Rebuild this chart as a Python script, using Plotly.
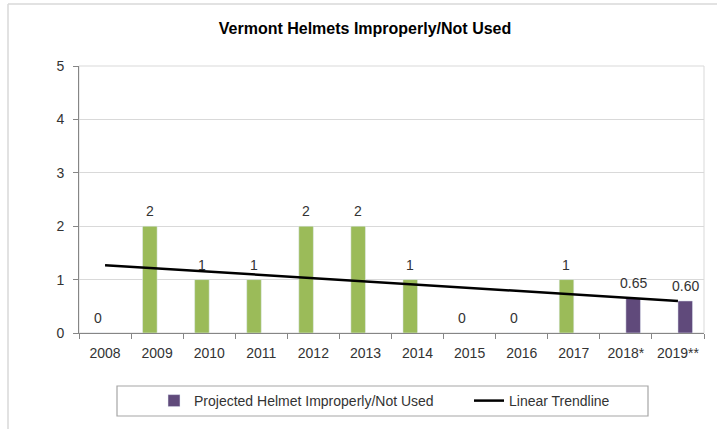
import plotly.graph_objects as go

categories = ["2008", "2009", "2010", "2011", "2012", "2013", "2014", "2015", "2016", "2017", "2018*", "2019**"]
actual_values = [0, 2, 1, 1, 2, 2, 1, 0, 0, 1, None, None]
projected_values = [None] * 10 + [0.65, 0.60]
projected_labels = ["0.65", "0.60"]
trend_categories = ["2008", "2019**"]
trend_values = [1.27, 0.60]
y_ticks = [0, 1, 2, 3, 4, 5]

GREEN = "#9BBB59"
PURPLE = "#604A7B"
TEXT = "#333333"
FONT = "Liberation Sans, Arial, sans-serif"
FS = 14

W, H = 717, 429
L, R, T, B = 79, 13, 66, 96
pw, ph = W - L - R, H - T - B


def px_x(x):
    return (x - L) / pw


def px_y(y):
    return (H - B - y) / ph


fig = go.Figure()
fig.add_trace(go.Bar(x=categories, y=actual_values, marker_color=GREEN, name="Helmet Improperly/Not Used",
                     showlegend=False, offsetgroup="a"))
fig.add_trace(go.Bar(x=categories, y=projected_values, marker_color=PURPLE,
                     name="Projected Helmet Improperly/Not Used", offsetgroup="b", legend="legend"))
fig.add_trace(go.Scatter(x=trend_categories, y=trend_values, mode="lines",
                         line=dict(color="black", width=2.5), name="Linear Trendline", legend="legend2"))

annotations = []
for i, v in enumerate(actual_values):
    if v is not None:
        annotations.append(dict(x=i, y=v, text=str(v), showarrow=False, xshift=-7.5, yshift=15,
                                font=dict(family=FONT, size=FS, color=TEXT)))
for i, v in enumerate(projected_values):
    if v is not None:
        annotations.append(dict(x=i, y=v, text=projected_labels[i - 10], showarrow=False, xshift=7.5,
                                yshift=15, font=dict(family=FONT, size=FS, color=TEXT)))

shapes = [
    # plot area border
    dict(type="rect", xref="paper", yref="paper", x0=0, x1=1, y0=0, y1=1,
         line=dict(color="#D9D9D9", width=1), layer="below"),
    # outer chart border (left and top)
    dict(type="line", xref="paper", yref="paper", x0=px_x(8), x1=px_x(8), y0=px_y(440), y1=px_y(4),
         line=dict(color="#D9D9D9", width=1.5)),
    dict(type="line", xref="paper", yref="paper", x0=px_x(8), x1=px_x(725), y0=px_y(4), y1=px_y(4),
         line=dict(color="#D9D9D9", width=1.5)),
    # legend box
    dict(type="rect", xref="paper", yref="paper", x0=px_x(117), x1=px_x(648), y0=px_y(416), y1=px_y(386),
         line=dict(color="#A6A6A6", width=1.2)),
]

legend_common = dict(orientation="h", xanchor="left", yanchor="middle", bgcolor="rgba(0,0,0,0)",
                     borderwidth=0, font=dict(family=FONT, size=FS, color=TEXT))

fig.update_layout(
    width=W, height=H,
    margin=dict(l=L, r=R, t=T, b=B, pad=0),
    paper_bgcolor="white", plot_bgcolor="white",
    font=dict(family=FONT, size=FS, color=TEXT),
    title=dict(text="<b>Vermont Helmets Improperly/Not Used</b>", x=365 / W, xref="container", xanchor="center",
               y=1 - 28 / H, yref="container", yanchor="middle",
               font=dict(family=FONT, size=16, color="black")),
    barmode="group", bargap=0.44, bargroupgap=0,
    showlegend=True,
    legend=dict(x=px_x(154), y=px_y(401), **legend_common),
    legend2=dict(x=px_x(469), y=px_y(401), **legend_common),
    annotations=annotations,
    shapes=shapes,
)
fig.update_xaxes(type="category", categoryorder="array", categoryarray=categories,
                 showline=True, linecolor="#868686", linewidth=1, ticks="outside", ticklen=5,
                 tickcolor="#868686", tickson="boundaries", showgrid=False, ticklabelstandoff=7,
                 tickfont=dict(family=FONT, size=FS, color=TEXT))
fig.update_yaxes(range=[0, 5], tickvals=y_ticks, showline=True, linecolor="#868686", linewidth=1,
                 ticks="outside", ticklen=5, tickcolor="#868686", showgrid=True, gridcolor="#D9D9D9",
                 zeroline=False, ticklabelstandoff=6, tickfont=dict(family=FONT, size=FS, color=TEXT))

fig.write_html("out.html", config={"displayModeBar": False},
               post_script="document.body.style.margin='0';")
